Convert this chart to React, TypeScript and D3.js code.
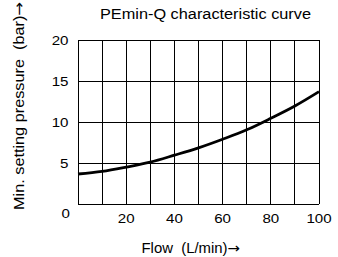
import React, { useEffect, useRef } from 'react';
import * as d3 from 'd3';

const flow = [0, 10, 20, 30, 40, 50, 60, 70, 80, 90, 100];
const pressure = [3.66, 3.98, 4.5, 5.1, 5.95, 6.85, 7.9, 9.05, 10.45, 11.95, 13.7];
const xTicks = [20, 40, 60, 80, 100];
const yTicks = [5, 10, 15, 20];

const title = 'PEmin-Q characteristic curve';
const xTitle = 'Flow  (L/min)';
const yTitle = 'Min. setting pressure  (bar)';
const arrow = '\u2192';

function App() {
  const svgRef = useRef<SVGSVGElement>(null);

  useEffect(() => {
    if (!svgRef.current) return;
    const svg = d3.select(svgRef.current);
    svg.selectAll('*').remove();

    const font = 'Liberation Sans, Arial, sans-serif';
    const x = d3.scaleLinear().domain([0, 100]).range([78, 319]);
    const y = d3.scaleLinear().domain([0, 20]).range([204, 40]);

    // the picture is a little wide, so text gets stretched sideways
    const sx = 1.12;

    // grid
    const grid = svg.append('g').attr('stroke', '#000').attr('stroke-width', 1).attr('shape-rendering', 'crispEdges');
    d3.range(0, 101, 10).forEach(v => {
      grid.append('line').attr('x1', x(v)).attr('x2', x(v)).attr('y1', y(0)).attr('y2', y(20));
    });
    d3.range(0, 21, 5).forEach(v => {
      grid.append('line').attr('x1', x(0)).attr('x2', x(100)).attr('y1', y(v)).attr('y2', y(v));
    });

    // curve
    const line = d3.line<number>()
      .x((d, i) => x(flow[i]))
      .y(d => y(d))
      .curve(d3.curveMonotoneX);

    svg.append('path')
      .datum(pressure)
      .attr('fill', 'none')
      .attr('stroke', '#000')
      .attr('stroke-width', 2.8)
      .attr('d', line);

    // tick labels
    svg.append('g').selectAll('text').data(xTicks).join('text')
      .attr('transform', d => `translate(${x(d)},222.7) scale(${sx},1)`)
      .attr('text-anchor', 'middle')
      .attr('font-family', font).attr('font-size', 13.5)
      .text(d => d);

    svg.append('g').selectAll('text').data(yTicks).join('text')
      .attr('transform', d => `translate(68.5,${y(d) + 4.7}) scale(${sx},1)`)
      .attr('text-anchor', 'end')
      .attr('font-family', font).attr('font-size', 13.5)
      .text(d => d);

    svg.append('text')
      .attr('transform', `translate(70,218.3) scale(${sx},1)`)
      .attr('text-anchor', 'end')
      .attr('font-family', font).attr('font-size', 13.5)
      .text('0');

    svg.append('text')
      .attr('x', 100).attr('y', 19)
      .attr('textLength', 211).attr('lengthAdjust', 'spacingAndGlyphs')
      .attr('font-family', font).attr('font-size', 14)
      .text(title);

    const xt = svg.append('text')
      .attr('x', 141.5).attr('y', 253)
      .attr('textLength', 98.5).attr('lengthAdjust', 'spacingAndGlyphs')
      .attr('font-family', font).attr('font-size', 14)
      .style('white-space', 'pre');
    xt.append('tspan').text(xTitle);
    xt.append('tspan').attr('font-family', 'DejaVu Sans').text(arrow);

    const yt = svg.append('text')
      .attr('transform', 'translate(23.5,210) rotate(-90)')
      .attr('x', 0).attr('y', 0)
      .attr('textLength', 208).attr('lengthAdjust', 'spacingAndGlyphs')
      .attr('font-family', font).attr('font-size', 14.5)
      .style('white-space', 'pre');
    yt.append('tspan').text(yTitle);
    yt.append('tspan').attr('font-family', 'DejaVu Sans').text(arrow);
  }, []);

  return (
    <svg ref={svgRef} width={338} height={257}
      style={{ position: 'absolute', left: 0, top: 0, background: '#fff' }} />
  );
}

export default App;
